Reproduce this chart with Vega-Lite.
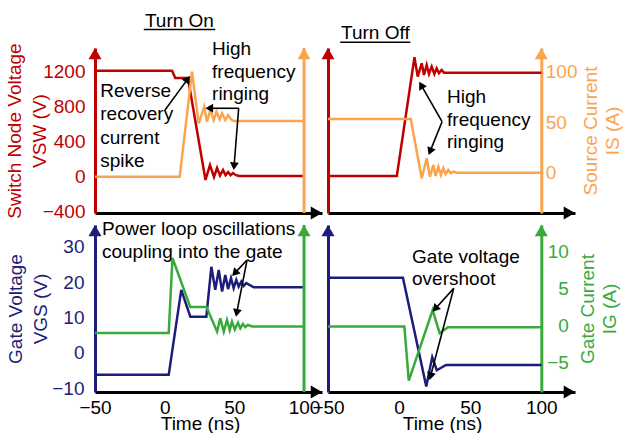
{
  "$schema": "https://vega.github.io/schema/vega-lite/v6.json",
  "background": "white",
  "padding": {"left": 5, "top": 11, "right": 0, "bottom": 0},
  "data": {"values": [{}]},
  "config": {
    "font": "Liberation Sans",
    "view": {"stroke": null},
    "axis": {"grid": false, "ticks": false, "labelFontSize": 19, "titleFontSize": 19, "titleFontWeight": "normal", "domainWidth": 3, "labelFlush": false, "labelOverlap": false, "labelBound": false, "titleLineHeight": 25, "labelFont": "Liberation Sans", "titleFont": "Liberation Sans", "format": "d"},
    "text": {"font": "Liberation Sans", "fontSize": 19, "color": "black"},
    "line": {"strokeWidth": 2.5},
    "point": {"filled": true, "opacity": 1}
  },
  "datasets": {
    "tl_v": [{"t":-50,"y":1215},{"t":5.3,"y":1215},{"t":7.6,"y":1131},{"t":16.7,"y":1131},{"t":29.3,"y":-40},{"t":32.5,"y":130},{"t":35.4,"y":-6},{"t":37.6,"y":98},{"t":39.7,"y":10},{"t":41.9,"y":75},{"t":43.7,"y":15},{"t":45.5,"y":52},{"t":47.3,"y":15},{"t":49,"y":40},{"t":51.2,"y":15},{"t":53.4,"y":6},{"t":100,"y":6}],
    "tl_i": [{"t":-50,"y":-4.2},{"t":10.8,"y":-4.2},{"t":19.6,"y":100},{"t":24.4,"y":48.8},{"t":28.4,"y":65.3},{"t":30.4,"y":50.4},{"t":32.8,"y":62},{"t":35.2,"y":52},{"t":37.1,"y":60.3},{"t":39.5,"y":52.8},{"t":41.2,"y":58.7},{"t":43.5,"y":52},{"t":45.5,"y":57},{"t":47.6,"y":52.8},{"t":49.8,"y":51},{"t":100,"y":51}],
    "tr_v": [{"t":-50,"y":5},{"t":-1.6,"y":5},{"t":10.8,"y":1369},{"t":13.1,"y":1146},{"t":15.9,"y":1300},{"t":17.5,"y":1165},{"t":19.4,"y":1280},{"t":21,"y":1177},{"t":22.9,"y":1261},{"t":24.8,"y":1177},{"t":26.4,"y":1242},{"t":28,"y":1185},{"t":29.9,"y":1223},{"t":31.5,"y":1192},{"t":100,"y":1192}],
    "tr_i": [{"t":-50,"y":53},{"t":8.2,"y":53},{"t":15.9,"y":-5.8},{"t":19.4,"y":14.1},{"t":21.7,"y":-4.2},{"t":24.1,"y":7.4},{"t":25.7,"y":-3.5},{"t":27.6,"y":5.8},{"t":29.4,"y":-2.5},{"t":31.1,"y":4.2},{"t":32.7,"y":-1.5},{"t":34.6,"y":2.5},{"t":36.4,"y":-0.8},{"t":38.1,"y":0.8},{"t":40.4,"y":-0.2},{"t":100,"y":-0.2}],
    "bl_v": [{"t":-50,"y":-6.2},{"t":2.9,"y":-6.2},{"t":11.9,"y":17.8},{"t":18.4,"y":10.2},{"t":29.9,"y":10.2},{"t":33.5,"y":24.3},{"t":36.3,"y":17.8},{"t":38.8,"y":23.4},{"t":41.2,"y":17.3},{"t":43.5,"y":22},{"t":45.5,"y":18},{"t":47.6,"y":21.1},{"t":49.5,"y":18.3},{"t":51.4,"y":20.6},{"t":53.1,"y":18.7},{"t":55,"y":20.1},{"t":56.7,"y":18.9},{"t":58.6,"y":19.7},{"t":63.9,"y":18.5},{"t":100,"y":18.5}],
    "bl_i": [{"t":-50,"y":-1},{"t":2.9,"y":-1},{"t":5.6,"y":9.1},{"t":18.4,"y":2.5},{"t":30,"y":2.5},{"t":37.6,"y":-0.8},{"t":39.9,"y":1},{"t":42.4,"y":-0.8},{"t":44.7,"y":0.77},{"t":46.7,"y":-0.6},{"t":48.3,"y":0.54},{"t":50.3,"y":-0.5},{"t":52.6,"y":0.4},{"t":54.3,"y":-0.35},{"t":56.2,"y":0.23},{"t":57.9,"y":-0.2},{"t":59.6,"y":0.1},{"t":62.7,"y":-0.1},{"t":100,"y":-0.1}],
    "br_v": [{"t":-50,"y":21.2},{"t":2.7,"y":21.2},{"t":19.1,"y":-9.5},{"t":23.3,"y":-1.2},{"t":26.5,"y":-4.9},{"t":33,"y":-3.4},{"t":100,"y":-3.4}],
    "br_i": [{"t":-50,"y":-0.1},{"t":3.7,"y":-0.1},{"t":6.8,"y":-7.4},{"t":23.6,"y":2.1},{"t":28.5,"y":-1},{"t":34.4,"y":-0.2},{"t":100,"y":-0.2}],
    "tl_txt": [{"label":"Reverse","t":-46.2,"y":913},{"label":"recovery","t":-46.2,"y":645},{"label":"current","t":-46.2,"y":378},{"label":"spike","t":-46.2,"y":110},{"label":"High","t":34,"y":1395},{"label":"frequency","t":34,"y":1134},{"label":"ringing","t":34,"y":874}],
    "tl_arr": [{"t":0.24,"y":763,"t2":16.5,"y2":1118},{"t":53.1,"y":783,"t2":32.0,"y2":783},{"t":53.1,"y":783,"t2":49.8,"y2":119}],
    "tr_txt": [{"label":"High","t":33.7,"y":840},{"label":"frequency","t":33.7,"y":580},{"label":"ringing","t":33.7,"y":324}],
    "tr_arr": [{"t":30.2,"y":629,"t2":15.5,"y2":1049},{"t":30.2,"y":629,"t2":21.8,"y2":288}],
    "bl_txt": [{"label":"Power loop oscillations","t":-45,"y":33.3},{"label":"coupling into the gate","t":-45,"y":26.9}],
    "bl_arr": [{"t":59.1,"y":26.2,"t2":50.3,"y2":22.5},{"t":59.1,"y":26.2,"t2":51.7,"y2":11.3}],
    "br_txt": [{"label":"Gate voltage","t":9.1,"y":25.3},{"label":"overshoot","t":9.1,"y":19.2}],
    "br_arr": [{"t":38.4,"y":18.2,"t2":25.3,"y2":12.4},{"t":38.4,"y":18.2,"t2":22.1,"y2":-6.6}]
  },
  "bounds": "flush",
  "columns": 2,
  "spacing": {"row": 12, "column": 6},
  "concat": [
        {
          "width": 227, "height": 165,
          "resolve": {"scale": {"y": "independent"}},
          "layer": [
            {"data": {"name": "tl_v"}, "mark": {"type": "line", "color": "#C00000"},
             "encoding": {
               "x": {"field": "t", "type": "quantitative", "scale": {"domain": [-50, 112.9], "nice": false, "zero": false}, "axis": {"orient": "bottom", "domain": true, "domainColor": "black", "labels": false, "title": null}},
               "y": {"field": "y", "type": "quantitative", "scale": {"domain": [-419, 1475], "nice": false, "zero": false}, "axis": {"orient": "left", "values": [-400, 0, 400, 800, 1200], "domainColor": "#C00000", "labelColor": "#C00000", "labelPadding": 10, "title": ["Switch Node Voltage", "VSW (V)"], "titleColor": "#C00000", "titlePadding": -7}}
             }},
            {"data": {"name": "tl_i"}, "mark": {"type": "line", "color": "#FAA44F"},
             "encoding": {
               "x": {"field": "t", "type": "quantitative", "scale": {"domain": [-50, 112.9], "nice": false, "zero": false}},
               "y": {"field": "y", "type": "quantitative", "scale": {"domain": [-40.2, 123.5], "nice": false, "zero": false}, "axis": null}
             }},
            {"mark": {"type": "rule", "color": "#FAA44F", "strokeWidth": 3},
             "encoding": {"x": {"datum": 100, "type": "quantitative", "scale": {"domain": [-50, 112.9], "nice": false, "zero": false}}}},
            {"mark": {"type": "point", "shape": "triangle-up", "size": 170, "color": "#C00000"},
             "encoding": {"x": {"datum": -50, "type": "quantitative", "scale": {"domain": [-50, 112.9], "nice": false, "zero": false}},
                          "y": {"datum": 1410, "type": "quantitative", "scale": {"domain": [-419, 1475], "nice": false, "zero": false}, "axis": null}}},
            {"mark": {"type": "point", "shape": "triangle-up", "size": 170, "color": "#FAA44F"},
             "encoding": {"x": {"datum": 100, "type": "quantitative", "scale": {"domain": [-50, 112.9], "nice": false, "zero": false}},
                          "y": {"datum": 117.9, "type": "quantitative", "scale": {"domain": [-40.2, 123.5], "nice": false, "zero": false}, "axis": null}}},
            {"mark": {"type": "point", "shape": "triangle-right", "size": 170, "color": "black"},
             "encoding": {"x": {"datum": 108.9, "type": "quantitative", "scale": {"domain": [-50, 112.9], "nice": false, "zero": false}},
                          "y": {"datum": -419, "type": "quantitative", "scale": {"domain": [-419, 1475], "nice": false, "zero": false}, "axis": null}}},
            {"data": {"name": "tl_txt"}, "mark": {"type": "text", "align": "left", "baseline": "alphabetic"},
             "encoding": {"text": {"field": "label"},
                          "x": {"field": "t", "type": "quantitative", "scale": {"domain": [-50, 112.9], "nice": false, "zero": false}},
                          "y": {"field": "y", "type": "quantitative", "scale": {"domain": [-419, 1475], "nice": false, "zero": false}, "axis": null}}},
            {"mark": {"type": "text", "text": "Turn On", "align": "center", "baseline": "alphabetic"},
             "encoding": {"x": {"datum": 10.6, "type": "quantitative", "scale": {"domain": [-50, 112.9], "nice": false, "zero": false}},
                          "y": {"datum": 1720, "type": "quantitative", "scale": {"domain": [-419, 1475], "nice": false, "zero": false}, "axis": null}}},
            {"mark": {"type": "rule", "color": "black", "strokeWidth": 1.6},
             "encoding": {"x": {"datum": -15, "type": "quantitative", "scale": {"domain": [-50, 112.9], "nice": false, "zero": false}},
                          "x2": {"datum": 36.3},
                          "y": {"datum": 1688, "type": "quantitative", "scale": {"domain": [-419, 1475], "nice": false, "zero": false}, "axis": null}}},
            {"data": {"name": "tl_arr"}, "mark": {"type": "rule", "color": "black", "strokeWidth": 1.6},
             "encoding": {"x": {"field": "t", "type": "quantitative", "scale": {"domain": [-50, 112.9], "nice": false, "zero": false}},
                          "x2": {"field": "t2"},
                          "y": {"field": "y", "type": "quantitative", "scale": {"domain": [-419, 1475], "nice": false, "zero": false}, "axis": null},
                          "y2": {"field": "y2"}}},
            {"mark": {"type": "point", "shape": "triangle-up", "size": 80, "color": "black", "angle": 36.3},
             "encoding": {"x": {"datum": 16.5, "type": "quantitative", "scale": {"domain": [-50, 112.9], "nice": false, "zero": false}},
                          "y": {"datum": 1118, "type": "quantitative", "scale": {"domain": [-419, 1475], "nice": false, "zero": false}, "axis": null}}},
            {"mark": {"type": "point", "shape": "triangle-up", "size": 80, "color": "black", "angle": 270},
             "encoding": {"x": {"datum": 32.0, "type": "quantitative", "scale": {"domain": [-50, 112.9], "nice": false, "zero": false}},
                          "y": {"datum": 783, "type": "quantitative", "scale": {"domain": [-419, 1475], "nice": false, "zero": false}, "axis": null}}},
            {"mark": {"type": "point", "shape": "triangle-up", "size": 80, "color": "black", "angle": 184.6},
             "encoding": {"x": {"datum": 49.8, "type": "quantitative", "scale": {"domain": [-50, 112.9], "nice": false, "zero": false}},
                          "y": {"datum": 119, "type": "quantitative", "scale": {"domain": [-419, 1475], "nice": false, "zero": false}, "axis": null}}}
          ]
        },
        {
          "width": 247, "height": 165,
          "resolve": {"scale": {"y": "independent"}},
          "layer": [
            {"data": {"name": "tr_v"}, "mark": {"type": "line", "color": "#C00000"},
             "encoding": {
               "x": {"field": "t", "type": "quantitative", "scale": {"domain": [-50, 123.7], "nice": false, "zero": false}, "axis": {"orient": "bottom", "domain": true, "domainColor": "black", "labels": false, "title": null}},
               "y": {"field": "y", "type": "quantitative", "scale": {"domain": [-419, 1475], "nice": false, "zero": false}, "axis": {"orient": "left", "domainColor": "#C00000", "labels": false, "title": null}}
             }},
            {"data": {"name": "tr_i"}, "mark": {"type": "line", "color": "#FAA44F"},
             "encoding": {
               "x": {"field": "t", "type": "quantitative", "scale": {"domain": [-50, 123.7], "nice": false, "zero": false}},
               "y": {"field": "y", "type": "quantitative", "scale": {"domain": [-40.2, 123.5], "nice": false, "zero": false}, "axis": {"orient": "right", "offset": -33.7, "values": [0, 50, 100], "domainColor": "#FAA44F", "labelColor": "#FAA44F", "labelAlign": "left", "labelPadding": 4, "title": ["Source Current", "IS (A)"], "titleColor": "#FAA44F", "titleAngle": 270, "titleBaseline": "top", "titlePadding": -18, "titleLineHeight": 22}}
             }},
            {"mark": {"type": "point", "shape": "triangle-up", "size": 170, "color": "#C00000"},
             "encoding": {"x": {"datum": -50, "type": "quantitative", "scale": {"domain": [-50, 123.7], "nice": false, "zero": false}},
                          "y": {"datum": 1410, "type": "quantitative", "scale": {"domain": [-419, 1475], "nice": false, "zero": false}, "axis": null}}},
            {"mark": {"type": "point", "shape": "triangle-up", "size": 170, "color": "#FAA44F"},
             "encoding": {"x": {"datum": 100, "type": "quantitative", "scale": {"domain": [-50, 123.7], "nice": false, "zero": false}},
                          "y": {"datum": 117.9, "type": "quantitative", "scale": {"domain": [-40.2, 123.5], "nice": false, "zero": false}, "axis": null}}},
            {"mark": {"type": "point", "shape": "triangle-right", "size": 170, "color": "black"},
             "encoding": {"x": {"datum": 119.7, "type": "quantitative", "scale": {"domain": [-50, 123.7], "nice": false, "zero": false}},
                          "y": {"datum": -419, "type": "quantitative", "scale": {"domain": [-419, 1475], "nice": false, "zero": false}, "axis": null}}},
            {"data": {"name": "tr_txt"}, "mark": {"type": "text", "align": "left", "baseline": "alphabetic"},
             "encoding": {"text": {"field": "label"},
                          "x": {"field": "t", "type": "quantitative", "scale": {"domain": [-50, 123.7], "nice": false, "zero": false}},
                          "y": {"field": "y", "type": "quantitative", "scale": {"domain": [-419, 1475], "nice": false, "zero": false}, "axis": null}}},
            {"mark": {"type": "text", "text": "Turn Off", "align": "center", "baseline": "alphabetic"},
             "encoding": {"x": {"datum": -16.7, "type": "quantitative", "scale": {"domain": [-50, 123.7], "nice": false, "zero": false}},
                          "y": {"datum": 1575, "type": "quantitative", "scale": {"domain": [-419, 1475], "nice": false, "zero": false}, "axis": null}}},
            {"mark": {"type": "rule", "color": "black", "strokeWidth": 1.6},
             "encoding": {"x": {"datum": -41.4, "type": "quantitative", "scale": {"domain": [-50, 123.7], "nice": false, "zero": false}},
                          "x2": {"datum": 7.9},
                          "y": {"datum": 1541, "type": "quantitative", "scale": {"domain": [-419, 1475], "nice": false, "zero": false}, "axis": null}}},
            {"data": {"name": "tr_arr"}, "mark": {"type": "rule", "color": "black", "strokeWidth": 1.6},
             "encoding": {"x": {"field": "t", "type": "quantitative", "scale": {"domain": [-50, 123.7], "nice": false, "zero": false}},
                          "x2": {"field": "t2"},
                          "y": {"field": "y", "type": "quantitative", "scale": {"domain": [-419, 1475], "nice": false, "zero": false}, "axis": null},
                          "y2": {"field": "y2"}}},
            {"mark": {"type": "point", "shape": "triangle-up", "size": 80, "color": "black", "angle": -29.6},
             "encoding": {"x": {"datum": 15.5, "type": "quantitative", "scale": {"domain": [-50, 123.7], "nice": false, "zero": false}},
                          "y": {"datum": 1049, "type": "quantitative", "scale": {"domain": [-419, 1475], "nice": false, "zero": false}, "axis": null}}},
            {"mark": {"type": "point", "shape": "triangle-up", "size": 80, "color": "black", "angle": 201.8},
             "encoding": {"x": {"datum": 21.8, "type": "quantitative", "scale": {"domain": [-50, 123.7], "nice": false, "zero": false}},
                          "y": {"datum": 288, "type": "quantitative", "scale": {"domain": [-419, 1475], "nice": false, "zero": false}, "axis": null}}}
          ]
        },
        {
          "width": 227, "height": 167,
          "resolve": {"scale": {"y": "independent"}},
          "layer": [
            {"data": {"name": "bl_v"}, "mark": {"type": "line", "color": "#1C1C7A"},
             "encoding": {
               "x": {"field": "t", "type": "quantitative", "scale": {"domain": [-50, 112.9], "nice": false, "zero": false}, "axis": {"orient": "bottom", "domain": true, "domainColor": "black", "values": [-50, 0, 50, 100], "labelColor": "black", "labelPadding": 6, "title": "Time (ns)", "titleColor": "black", "titlePadding": -3, "titleX": 105}},
               "y": {"field": "y", "type": "quantitative", "scale": {"domain": [-11.05, 36.1], "nice": false, "zero": false}, "axis": {"orient": "left", "values": [-10, 0, 10, 20, 30], "domainColor": "#1C1C7A", "labelColor": "#1C1C7A", "labelPadding": 11, "title": ["Gate Voltage", "VGS (V)"], "titleColor": "#1C1C7A", "titlePadding": 1}}
             }},
            {"data": {"name": "bl_i"}, "mark": {"type": "line", "color": "#38AA3C"},
             "encoding": {
               "x": {"field": "t", "type": "quantitative", "scale": {"domain": [-50, 112.9], "nice": false, "zero": false}},
               "y": {"field": "y", "type": "quantitative", "scale": {"domain": [-8.92, 13.54], "nice": false, "zero": false}, "axis": null}
             }},
            {"mark": {"type": "rule", "color": "#38AA3C", "strokeWidth": 3},
             "encoding": {"x": {"datum": 100, "type": "quantitative", "scale": {"domain": [-50, 112.9], "nice": false, "zero": false}}}},
            {"mark": {"type": "point", "shape": "triangle-up", "size": 170, "color": "#1C1C7A"},
             "encoding": {"x": {"datum": -50, "type": "quantitative", "scale": {"domain": [-50, 112.9], "nice": false, "zero": false}},
                          "y": {"datum": 34.5, "type": "quantitative", "scale": {"domain": [-11.05, 36.1], "nice": false, "zero": false}, "axis": null}}},
            {"mark": {"type": "point", "shape": "triangle-up", "size": 170, "color": "#38AA3C"},
             "encoding": {"x": {"datum": 100, "type": "quantitative", "scale": {"domain": [-50, 112.9], "nice": false, "zero": false}},
                          "y": {"datum": 12.78, "type": "quantitative", "scale": {"domain": [-8.92, 13.54], "nice": false, "zero": false}, "axis": null}}},
            {"mark": {"type": "point", "shape": "triangle-right", "size": 170, "color": "black"},
             "encoding": {"x": {"datum": 108.9, "type": "quantitative", "scale": {"domain": [-50, 112.9], "nice": false, "zero": false}},
                          "y": {"datum": -11.05, "type": "quantitative", "scale": {"domain": [-11.05, 36.1], "nice": false, "zero": false}, "axis": null}}},
            {"data": {"name": "bl_txt"}, "mark": {"type": "text", "align": "left", "baseline": "alphabetic"},
             "encoding": {"text": {"field": "label"},
                          "x": {"field": "t", "type": "quantitative", "scale": {"domain": [-50, 112.9], "nice": false, "zero": false}},
                          "y": {"field": "y", "type": "quantitative", "scale": {"domain": [-11.05, 36.1], "nice": false, "zero": false}, "axis": null}}},
            {"data": {"name": "bl_arr"}, "mark": {"type": "rule", "color": "black", "strokeWidth": 1.6},
             "encoding": {"x": {"field": "t", "type": "quantitative", "scale": {"domain": [-50, 112.9], "nice": false, "zero": false}},
                          "x2": {"field": "t2"},
                          "y": {"field": "y", "type": "quantitative", "scale": {"domain": [-11.05, 36.1], "nice": false, "zero": false}, "axis": null},
                          "y2": {"field": "y2"}}},
            {"mark": {"type": "point", "shape": "triangle-up", "size": 80, "color": "black", "angle": 223.1},
             "encoding": {"x": {"datum": 50.3, "type": "quantitative", "scale": {"domain": [-50, 112.9], "nice": false, "zero": false}},
                          "y": {"datum": 22.5, "type": "quantitative", "scale": {"domain": [-11.05, 36.1], "nice": false, "zero": false}, "axis": null}}},
            {"mark": {"type": "point", "shape": "triangle-up", "size": 80, "color": "black", "angle": 191},
             "encoding": {"x": {"datum": 51.7, "type": "quantitative", "scale": {"domain": [-50, 112.9], "nice": false, "zero": false}},
                          "y": {"datum": 11.3, "type": "quantitative", "scale": {"domain": [-11.05, 36.1], "nice": false, "zero": false}, "axis": null}}}
          ]
        },
        {
          "width": 247, "height": 167,
          "resolve": {"scale": {"y": "independent"}},
          "layer": [
            {"data": {"name": "br_v"}, "mark": {"type": "line", "color": "#1C1C7A"},
             "encoding": {
               "x": {"field": "t", "type": "quantitative", "scale": {"domain": [-50, 123.7], "nice": false, "zero": false}, "axis": {"orient": "bottom", "domain": true, "domainColor": "black", "values": [-50, 0, 50, 100], "labelColor": "black", "labelPadding": 6, "title": "Time (ns)", "titleColor": "black", "titlePadding": -3, "titleX": 114}},
               "y": {"field": "y", "type": "quantitative", "scale": {"domain": [-11.05, 36.1], "nice": false, "zero": false}, "axis": {"orient": "left", "domainColor": "#1C1C7A", "labels": false, "title": null}}
             }},
            {"data": {"name": "br_i"}, "mark": {"type": "line", "color": "#38AA3C"},
             "encoding": {
               "x": {"field": "t", "type": "quantitative", "scale": {"domain": [-50, 123.7], "nice": false, "zero": false}},
               "y": {"field": "y", "type": "quantitative", "scale": {"domain": [-8.92, 13.54], "nice": false, "zero": false}, "axis": {"orient": "right", "offset": -33.7, "values": [-5, 0, 5, 10], "domainColor": "#38AA3C", "labelColor": "#38AA3C", "labelAlign": "right", "labelPadding": 27, "title": ["Gate Current", "IG (A)"], "titleColor": "#38AA3C", "titleAngle": 270, "titleBaseline": "top", "titlePadding": -12, "titleLineHeight": 22}}
             }},
            {"mark": {"type": "point", "shape": "triangle-up", "size": 170, "color": "#1C1C7A"},
             "encoding": {"x": {"datum": -50, "type": "quantitative", "scale": {"domain": [-50, 123.7], "nice": false, "zero": false}},
                          "y": {"datum": 34.5, "type": "quantitative", "scale": {"domain": [-11.05, 36.1], "nice": false, "zero": false}, "axis": null}}},
            {"mark": {"type": "point", "shape": "triangle-up", "size": 170, "color": "#38AA3C"},
             "encoding": {"x": {"datum": 100, "type": "quantitative", "scale": {"domain": [-50, 123.7], "nice": false, "zero": false}},
                          "y": {"datum": 12.78, "type": "quantitative", "scale": {"domain": [-8.92, 13.54], "nice": false, "zero": false}, "axis": null}}},
            {"mark": {"type": "point", "shape": "triangle-right", "size": 170, "color": "black"},
             "encoding": {"x": {"datum": 119.7, "type": "quantitative", "scale": {"domain": [-50, 123.7], "nice": false, "zero": false}},
                          "y": {"datum": -11.05, "type": "quantitative", "scale": {"domain": [-11.05, 36.1], "nice": false, "zero": false}, "axis": null}}},
            {"data": {"name": "br_txt"}, "mark": {"type": "text", "align": "left", "baseline": "alphabetic"},
             "encoding": {"text": {"field": "label"},
                          "x": {"field": "t", "type": "quantitative", "scale": {"domain": [-50, 123.7], "nice": false, "zero": false}},
                          "y": {"field": "y", "type": "quantitative", "scale": {"domain": [-11.05, 36.1], "nice": false, "zero": false}, "axis": null}}},
            {"data": {"name": "br_arr"}, "mark": {"type": "rule", "color": "black", "strokeWidth": 1.6},
             "encoding": {"x": {"field": "t", "type": "quantitative", "scale": {"domain": [-50, 123.7], "nice": false, "zero": false}},
                          "x2": {"field": "t2"},
                          "y": {"field": "y", "type": "quantitative", "scale": {"domain": [-11.05, 36.1], "nice": false, "zero": false}, "axis": null},
                          "y2": {"field": "y2"}}},
            {"mark": {"type": "point", "shape": "triangle-up", "size": 80, "color": "black", "angle": 221.8},
             "encoding": {"x": {"datum": 25.3, "type": "quantitative", "scale": {"domain": [-50, 123.7], "nice": false, "zero": false}},
                          "y": {"datum": 12.4, "type": "quantitative", "scale": {"domain": [-11.05, 36.1], "nice": false, "zero": false}, "axis": null}}},
            {"mark": {"type": "point", "shape": "triangle-up", "size": 80, "color": "black", "angle": 194.8},
             "encoding": {"x": {"datum": 22.1, "type": "quantitative", "scale": {"domain": [-50, 123.7], "nice": false, "zero": false}},
                          "y": {"datum": -6.6, "type": "quantitative", "scale": {"domain": [-11.05, 36.1], "nice": false, "zero": false}, "axis": null}}}
          ]
        }
  ]
}
